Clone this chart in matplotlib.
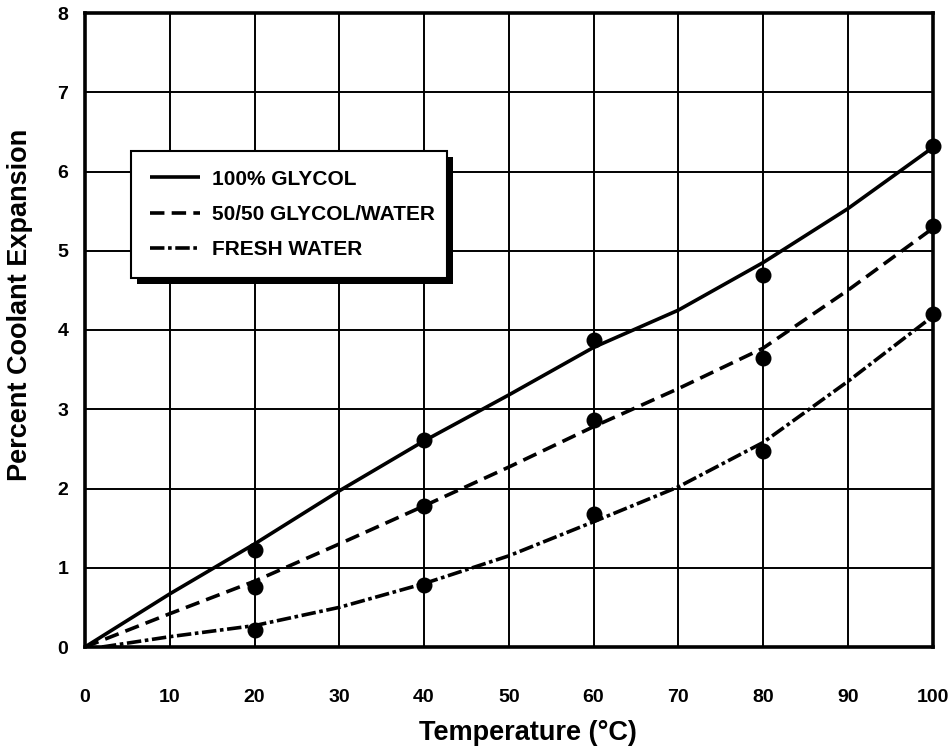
import matplotlib
matplotlib.use("Agg")
import matplotlib.pyplot as plt
from matplotlib.patches import Rectangle
from matplotlib.transforms import IdentityTransform

plt.rcParams['font.family'] = ['Liberation Sans', 'DejaVu Sans']
plt.rcParams['font.weight'] = 'bold'

# Curve readings (temperature °C -> percent expansion)
curve_x = [0, 10, 20, 30, 40, 50, 60, 70, 80, 90, 100]
glycol_curve = [0, 0.67, 1.3, 1.97, 2.6, 3.18, 3.78, 4.25, 4.85, 5.53, 6.3]
mix_curve = [0, 0.42, 0.83, 1.3, 1.78, 2.27, 2.78, 3.26, 3.77, 4.5, 5.28]
water_curve_x = [2, 10, 20, 30, 40, 50, 60, 70, 80, 90, 100]
water_curve = [0, 0.13, 0.27, 0.5, 0.8, 1.15, 1.58, 2.02, 2.58, 3.35, 4.17]

# Measured points
pt_x = [20, 40, 60, 80, 100]
glycol_pts = [1.22, 2.61, 3.87, 4.70, 6.32]
mix_pts = [0.76, 1.78, 2.86, 3.65, 5.31]
water_pts = [0.21, 0.78, 1.68, 2.47, 4.20]

labels = ["100% GLYCOL", "50/50 GLYCOL/WATER", "FRESH WATER"]
x_ticks = list(range(0, 101, 10))
y_ticks = list(range(0, 9))

fig = plt.figure(figsize=(9.5, 7.5), dpi=100)
ax = fig.add_axes([85/950, 1 - 647/750, (932.5-85)/950, (647-13)/750])

lw = 2.6
l1, = ax.plot(curve_x, glycol_curve, color='black', lw=lw, solid_capstyle='butt', zorder=3)
l2, = ax.plot(curve_x, mix_curve, color='black', lw=lw, dashes=(4.0, 2.0), zorder=3)
l3, = ax.plot(water_curve_x, water_curve, color='black', lw=lw, dashes=(4.0, 1.0, 1.0, 1.0), zorder=3)

for ys in (glycol_pts, mix_pts, water_pts):
    ax.plot(pt_x, ys, 'o', color='black', ms=10.5, zorder=4, clip_on=False)

ax.set_xlim(0, 100)
ax.set_ylim(0, 8)
ax.set_xticks(x_ticks)
ax.set_yticks(y_ticks)
ax.grid(True, color='black', lw=1.4)
ax.set_axisbelow(True)
for s in ax.spines.values():
    s.set_linewidth(2.6)
    s.set_zorder(5)
ax.tick_params(axis='both', length=0, labelsize=14)
ax.tick_params(axis='x', pad=30)
ax.tick_params(axis='y', pad=12)
for t in ax.get_xticklabels() + ax.get_yticklabels():
    t.set_fontweight('bold')

ax.set_xlabel("Temperature (°C)", fontsize=19.5, fontweight='bold')
ax.set_ylabel("Percent Coolant Expansion", fontsize=19.5, fontweight='bold')
ax.xaxis.set_label_coords(0.523, -0.115)
ax.yaxis.set_label_coords(-0.061, 0.539)

leg = ax.legend([l1, l2, l3], labels, loc='upper left',
                bbox_to_anchor=(46/847, 0, 316/847, 1 - 138/634),
                mode='expand', borderaxespad=0, fancybox=False,
                framealpha=1, edgecolor='black',
                handlelength=2.4, handletextpad=0.6, labelspacing=0.78,
                borderpad=0.9, prop={'weight': 'bold', 'size': 15})
leg.get_frame().set_linewidth(1.5)
leg.set_zorder(10)

fig.canvas.draw()
bb = leg.get_window_extent()
shadow = Rectangle((bb.x0 + 6, bb.y0 - 6), bb.width, bb.height,
                   transform=IdentityTransform(), facecolor='black',
                   edgecolor='none', zorder=9)
ax.add_artist(shadow)

fig.savefig("out.png", dpi=100)
